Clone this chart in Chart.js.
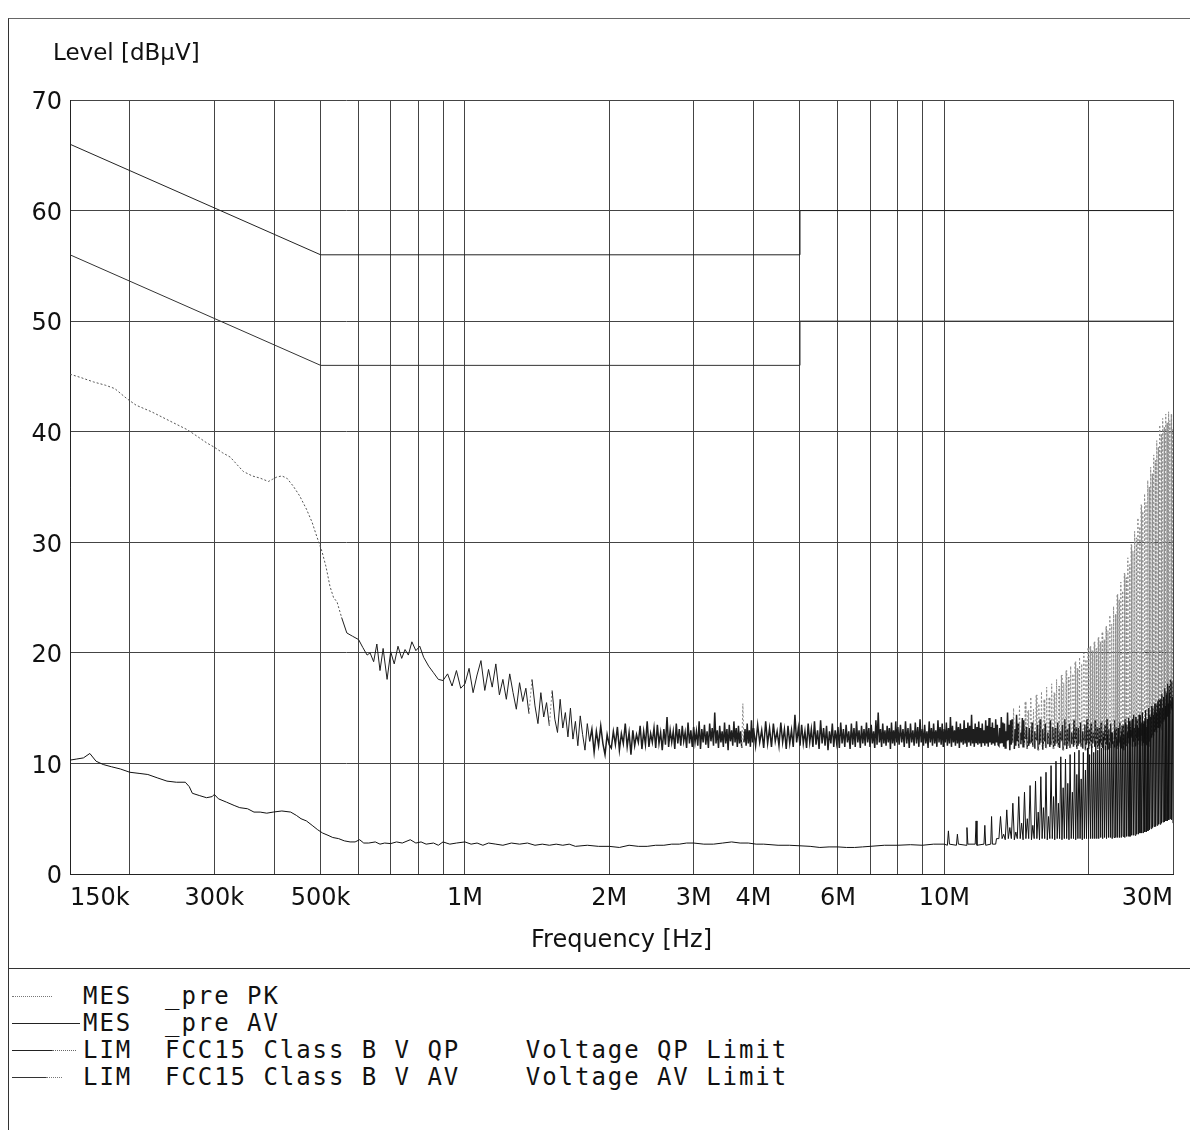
<!DOCTYPE html>
<html lang="en">
<head>
<meta charset="UTF-8">
<title>Conducted emission scan</title>
<script src="https://cdn.jsdelivr.net/npm/chart.js@4.4.1/dist/chart.umd.min.js"></script>
<style>
    body { margin: 0; width: 1190px; height: 1130px; background: #fff; position: relative; overflow: hidden; }
    .frame { position: absolute; left: 8px; top: 18px; width: 1182px; height: 1112px; border-left: 1px solid #333; border-top: 1px solid #666; box-sizing: border-box; }
    #plot { position: absolute; left: 8px; top: 18px; }
    .sep { position: absolute; left: 8px; top: 968px; width: 1182px; border-top: 1px solid #333; }
    .legend { position: absolute; left: 83px; top: 983px; font: 24px 'DejaVu Sans Mono', monospace; letter-spacing: 1.95px; line-height: 27px; white-space: pre; color: #111; }
    .sw { position: absolute; height: 0; }
</style>
</head>
<body>
<div class="frame"></div>
<canvas id="plot" width="1182" height="950"></canvas>
<div class="sep"></div>

<div class="sw" style="left:12px;top:996px;width:40px;border-top:1px dotted #777"></div>
<div class="sw" style="left:12px;top:1023px;width:68px;border-top:1px solid #222"></div>
<div class="sw" style="left:12px;top:1050px;width:40px;border-top:1px solid #222"></div>
<div class="sw" style="left:52px;top:1050px;width:24px;border-top:1px dotted #666"></div>
<div class="sw" style="left:12px;top:1077px;width:34px;border-top:1px solid #333"></div>
<div class="sw" style="left:46px;top:1077px;width:16px;border-top:1px dotted #777"></div>
<div class="legend">MES  _pre PK
MES  _pre AV
LIM  FCC15 Class B V QP    Voltage QP Limit
LIM  FCC15 Class B V AV    Voltage AV Limit</div>

<script>
// frequencies in MHz, levels in dBµV
const yTitle = 'Level [dBµV]'
const xTitle = 'Frequency [Hz]'
const freqGrid = [0.15, 0.2, 0.3, 0.4, 0.5, 0.6, 0.7, 0.8, 0.9, 1, 2, 3, 4, 5, 6, 7, 8, 9, 10, 20, 30]
const freqLabels = ['150k', '', '300k', '', '500k', '', '', '', '', '1M', '2M', '3M', '4M', '', '6M', '', '', '', '10M', '', '30M']
const levelTicks = [0, 10, 20, 30, 40, 50, 60, 70]

const qpLimit = [[0.15, 66], [0.5, 56], [5, 56], [5, 60], [30, 60]]
const avLimit = [[0.15, 56], [0.5, 46], [5, 46], [5, 50], [30, 50]]

// peak sweep, 150k - 1M
const pkLow = [
    [0.150, 45.2], [0.158, 44.9], [0.168, 44.5], [0.178, 44.2], [0.186, 43.9], [0.192, 43.4], [0.197, 43.0], [0.206, 42.4],
    [0.222, 41.8], [0.239, 41.1], [0.252, 40.6], [0.263, 40.2], [0.276, 39.6], [0.289, 39.0], [0.300, 38.6], [0.312, 38.1],
    [0.324, 37.7], [0.335, 37.0], [0.345, 36.4], [0.360, 36.0], [0.374, 35.8], [0.389, 35.5], [0.397, 35.7], [0.405, 35.9],
    [0.415, 36.0], [0.425, 35.8], [0.438, 35.1], [0.452, 34.2], [0.467, 33.0], [0.480, 31.8], [0.491, 30.5], [0.503, 29.2],
    [0.513, 27.8], [0.523, 26.0], [0.532, 25.0], [0.541, 24.6], [0.553, 23.2], [0.567, 21.8], [0.583, 21.5], [0.600, 21.2],
    [0.612, 20.5], [0.625, 19.8], [0.634, 20.0], [0.645, 19.2], [0.655, 20.8], [0.665, 18.4], [0.675, 20.4], [0.688, 17.6],
    [0.700, 20.1], [0.712, 19.0], [0.725, 20.6], [0.738, 19.5], [0.750, 20.3], [0.762, 19.8], [0.775, 21.0], [0.790, 20.2],
    [0.805, 20.6], [0.820, 19.6], [0.840, 18.8], [0.860, 18.2], [0.880, 17.6], [0.900, 17.5], [0.920, 18.1], [0.940, 17.0],
    [0.960, 18.4], [0.980, 16.8]
]

// peak sweep, 1M - 13M (noise band)
const pkMid = [
    [1.00, 17.2], [1.02, 18.6], [1.04, 16.4], [1.06, 18.0], [1.08, 19.3], [1.10, 16.6], [1.12, 18.5], [1.14, 16.9], [1.16, 19.0], [1.18, 16.2],
    [1.20, 17.6], [1.22, 15.8], [1.24, 18.1], [1.26, 16.4], [1.28, 14.9], [1.30, 17.3], [1.32, 15.6], [1.34, 16.8], [1.36, 14.5], [1.38, 17.6],
    [1.40, 15.2], [1.42, 13.6], [1.44, 16.4], [1.46, 14.2], [1.48, 15.5], [1.50, 13.4], [1.52, 16.6], [1.54, 14.0], [1.56, 12.8], [1.58, 15.8],
    [1.60, 13.2], [1.62, 14.6], [1.64, 12.4], [1.66, 15.0], [1.68, 12.2], [1.70, 13.8], [1.72, 11.6], [1.74, 14.3], [1.76, 12.6], [1.78, 11.2],
    [1.80, 13.6], [1.82, 12.0], [1.84, 13.1], [1.86, 11.0], [1.88, 12.9], [1.90, 11.6], [1.92, 13.4], [1.94, 11.8], [1.96, 10.8], [1.98, 12.6],
    [2.00, 11.7], [2.02, 11.4], [2.04, 12.9], [2.06, 11.7], [2.08, 13.3], [2.10, 11.2], [2.12, 12.7], [2.14, 11.8], [2.16, 13.6], [2.18, 11.5],
    [2.20, 12.8], [2.22, 10.8], [2.24, 13.0], [2.26, 11.6], [2.28, 12.6], [2.30, 11.9], [2.32, 13.4], [2.34, 11.3], [2.36, 12.9], [2.38, 11.7],
    [2.40, 13.8], [2.42, 11.5], [2.44, 12.7], [2.46, 11.9], [2.48, 13.2], [2.50, 11.4], [2.52, 13.5], [2.54, 11.8], [2.56, 12.8], [2.58, 11.2],
    [2.60, 13.1], [2.62, 11.7], [2.64, 14.2], [2.66, 11.5], [2.68, 13.0], [2.70, 11.9], [2.72, 12.9], [2.74, 11.3], [2.76, 13.6], [2.78, 11.8],
    [2.80, 13.1], [2.82, 11.6], [2.84, 13.4], [2.86, 12.0], [2.88, 12.8], [2.90, 11.4], [2.92, 13.7], [2.94, 11.8], [2.96, 13.0], [2.98, 11.5],
    [3.00, 13.3], [3.02, 11.9], [3.04, 12.9], [3.06, 11.6], [3.08, 13.8], [3.10, 11.3], [3.12, 13.1], [3.14, 11.9], [3.16, 13.5], [3.18, 11.7],
    [3.20, 12.9], [3.22, 11.4], [3.24, 13.6], [3.26, 12.0], [3.28, 13.2], [3.30, 11.6], [3.32, 14.6], [3.34, 11.8], [3.36, 13.0], [3.38, 11.4],
    [3.40, 13.4], [3.42, 11.9], [3.44, 12.9], [3.46, 11.5], [3.48, 13.7], [3.50, 11.8], [3.52, 13.1], [3.54, 11.2], [3.56, 13.5], [3.58, 12.0],
    [3.60, 13.0], [3.62, 11.6], [3.64, 13.8], [3.66, 11.9], [3.68, 13.2], [3.70, 11.5], [3.72, 13.4], [3.74, 11.8], [3.76, 12.9], [3.78, 11.4],
    [3.80, 15.4], [3.82, 11.9], [3.84, 13.1], [3.86, 11.6], [3.88, 13.6], [3.90, 11.8], [3.92, 13.0], [3.94, 11.5], [3.96, 13.9], [3.98, 11.9],
    [4.00, 13.2], [4.04, 11.6], [4.08, 13.5], [4.12, 11.9], [4.16, 13.0], [4.20, 11.4], [4.24, 13.8], [4.28, 11.8], [4.32, 13.2], [4.36, 11.5],
    [4.40, 13.6], [4.44, 12.0], [4.48, 12.9], [4.52, 11.6], [4.56, 13.7], [4.60, 11.9], [4.64, 13.1], [4.68, 11.3], [4.72, 13.4], [4.76, 11.8],
    [4.80, 13.0], [4.84, 11.5], [4.88, 14.4], [4.92, 11.9], [4.96, 13.2], [5.00, 11.6], [5.04, 13.5], [5.08, 11.8], [5.12, 12.9], [5.16, 11.4],
    [5.20, 13.6], [5.24, 11.9], [5.28, 13.1], [5.32, 11.5], [5.36, 13.8], [5.40, 11.7], [5.44, 13.0], [5.48, 11.3], [5.52, 13.9], [5.56, 11.8],
    [5.60, 13.2], [5.64, 11.6], [5.68, 13.4], [5.72, 11.2], [5.76, 12.9], [5.80, 11.8], [5.84, 13.6], [5.88, 11.5], [5.92, 13.0], [5.96, 11.9],
    [6.00, 13.3], [6.04, 11.4], [6.08, 13.7], [6.12, 11.8], [6.16, 13.1], [6.20, 11.5], [6.24, 13.5], [6.28, 11.9], [6.32, 12.9], [6.36, 11.3],
    [6.40, 13.6], [6.44, 11.7], [6.48, 13.2], [6.52, 11.5], [6.56, 13.8], [6.60, 11.9], [6.64, 13.0], [6.68, 11.4], [6.72, 13.4], [6.76, 11.8],
    [6.80, 13.1], [6.84, 11.6], [6.88, 13.7], [6.92, 11.9], [6.96, 13.2], [7.00, 11.5], [7.04, 13.5], [7.08, 11.8], [7.12, 12.9], [7.16, 11.4],
    [7.20, 13.9], [7.24, 11.7], [7.28, 14.6], [7.32, 11.9], [7.36, 13.1], [7.40, 11.5], [7.44, 13.6], [7.48, 11.8], [7.52, 13.0], [7.56, 11.6],
    [7.60, 13.4], [7.64, 11.9], [7.68, 13.2], [7.72, 11.3], [7.76, 13.7], [7.80, 11.8], [7.84, 13.0], [7.88, 11.6], [7.92, 13.8], [7.96, 11.9],
    [8.00, 13.3], [8.05, 11.7], [8.10, 13.5], [8.15, 11.9], [8.20, 13.1], [8.25, 11.5], [8.30, 13.8], [8.35, 11.8], [8.40, 13.2], [8.45, 11.4],
    [8.50, 13.6], [8.55, 11.9], [8.60, 13.0], [8.65, 11.6], [8.70, 13.7], [8.75, 11.8], [8.80, 13.3], [8.85, 11.5], [8.90, 14.0], [8.95, 11.9],
    [9.00, 13.1], [9.05, 11.6], [9.10, 13.5], [9.15, 11.8], [9.20, 12.9], [9.25, 11.4], [9.30, 13.8], [9.35, 11.9], [9.40, 13.2], [9.45, 11.6],
    [9.50, 13.6], [9.55, 11.8], [9.60, 13.0], [9.65, 11.5], [9.70, 13.9], [9.75, 11.9], [9.80, 13.3], [9.85, 11.7], [9.90, 13.6], [9.95, 11.5],
    [10.00, 13.1], [10.05, 11.9], [10.10, 13.7], [10.15, 11.6], [10.20, 13.2], [10.25, 11.8], [10.30, 14.2], [10.35, 11.5], [10.40, 13.4], [10.45, 11.9],
    [10.50, 13.0], [10.55, 11.6], [10.60, 13.8], [10.65, 11.8], [10.70, 13.3], [10.75, 11.4], [10.80, 13.6], [10.85, 11.9], [10.90, 13.1], [10.95, 11.7],
    [11.00, 13.9], [11.05, 11.8], [11.10, 13.2], [11.15, 11.5], [11.20, 13.7], [11.25, 11.9], [11.30, 13.4], [11.35, 11.6], [11.40, 14.4], [11.45, 11.8],
    [11.50, 13.1], [11.55, 11.5], [11.60, 13.6], [11.65, 11.9], [11.70, 13.3], [11.75, 11.7], [11.80, 13.8], [11.85, 11.8], [11.90, 13.2], [11.95, 11.5],
    [12.00, 13.6], [12.05, 11.9], [12.10, 13.0], [12.15, 11.6], [12.20, 13.9], [12.25, 11.8], [12.30, 13.4], [12.35, 11.5], [12.40, 14.1], [12.45, 11.9],
    [12.50, 13.3], [12.55, 11.7], [12.60, 13.7], [12.65, 11.8], [12.70, 13.2], [12.75, 11.6], [12.80, 14.0], [12.85, 11.9], [12.90, 13.5], [12.95, 11.7]
]

// peak sweep 13M - 30M: noise band with a harmonic spike every 200 kHz
const pkCombFreq = [
    13.00, 13.05, 13.10, 13.15, 13.20, 13.25, 13.30, 13.35, 13.40, 13.45, 13.50, 13.55, 13.60, 13.65, 13.70, 13.75, 13.80, 13.85, 13.90, 13.95,
    14.00, 14.05, 14.10, 14.15, 14.20, 14.25, 14.30, 14.35, 14.40, 14.45, 14.50, 14.55, 14.60, 14.65, 14.70, 14.75, 14.80, 14.85, 14.90, 14.95,
    15.00, 15.05, 15.10, 15.15, 15.20, 15.25, 15.30, 15.35, 15.40, 15.45, 15.50, 15.55, 15.60, 15.65, 15.70, 15.75, 15.80, 15.85, 15.90, 15.95,
    16.00, 16.05, 16.10, 16.15, 16.20, 16.25, 16.30, 16.35, 16.40, 16.45, 16.50, 16.55, 16.60, 16.65, 16.70, 16.75, 16.80, 16.85, 16.90, 16.95,
    17.00, 17.05, 17.10, 17.15, 17.20, 17.25, 17.30, 17.35, 17.40, 17.45, 17.50, 17.55, 17.60, 17.65, 17.70, 17.75, 17.80, 17.85, 17.90, 17.95,
    18.00, 18.05, 18.10, 18.15, 18.20, 18.25, 18.30, 18.35, 18.40, 18.45, 18.50, 18.55, 18.60, 18.65, 18.70, 18.75, 18.80, 18.85, 18.90, 18.95,
    19.00, 19.05, 19.10, 19.15, 19.20, 19.25, 19.30, 19.35, 19.40, 19.45, 19.50, 19.55, 19.60, 19.65, 19.70, 19.75, 19.80, 19.85, 19.90, 19.95,
    20.00, 20.05, 20.10, 20.15, 20.20, 20.25, 20.30, 20.35, 20.40, 20.45, 20.50, 20.55, 20.60, 20.65, 20.70, 20.75, 20.80, 20.85, 20.90, 20.95,
    21.00, 21.05, 21.10, 21.15, 21.20, 21.25, 21.30, 21.35, 21.40, 21.45, 21.50, 21.55, 21.60, 21.65, 21.70, 21.75, 21.80, 21.85, 21.90, 21.95,
    22.00, 22.05, 22.10, 22.15, 22.20, 22.25, 22.30, 22.35, 22.40, 22.45, 22.50, 22.55, 22.60, 22.65, 22.70, 22.75, 22.80, 22.85, 22.90, 22.95,
    23.00, 23.05, 23.10, 23.15, 23.20, 23.25, 23.30, 23.35, 23.40, 23.45, 23.50, 23.55, 23.60, 23.65, 23.70, 23.75, 23.80, 23.85, 23.90, 23.95,
    24.00, 24.05, 24.10, 24.15, 24.20, 24.25, 24.30, 24.35, 24.40, 24.45, 24.50, 24.55, 24.60, 24.65, 24.70, 24.75, 24.80, 24.85, 24.90, 24.95,
    25.00, 25.05, 25.10, 25.15, 25.20, 25.25, 25.30, 25.35, 25.40, 25.45, 25.50, 25.55, 25.60, 25.65, 25.70, 25.75, 25.80, 25.85, 25.90, 25.95,
    26.00, 26.05, 26.10, 26.15, 26.20, 26.25, 26.30, 26.35, 26.40, 26.45, 26.50, 26.55, 26.60, 26.65, 26.70, 26.75, 26.80, 26.85, 26.90, 26.95,
    27.00, 27.05, 27.10, 27.15, 27.20, 27.25, 27.30, 27.35, 27.40, 27.45, 27.50, 27.55, 27.60, 27.65, 27.70, 27.75, 27.80, 27.85, 27.90, 27.95,
    28.00, 28.05, 28.10, 28.15, 28.20, 28.25, 28.30, 28.35, 28.40, 28.45, 28.50, 28.55, 28.60, 28.65, 28.70, 28.75, 28.80, 28.85, 28.90, 28.95,
    29.00, 29.05, 29.10, 29.15, 29.20, 29.25, 29.30, 29.35, 29.40, 29.45, 29.50, 29.55, 29.60, 29.65, 29.70, 29.75, 29.80, 29.85, 29.90, 29.95,
    30.00
]
const pkComb = [
    11.6, 13.2, 11.8, 14.2, 11.9, 13.7, 11.5, 13.6, 11.4, 12.9, 12.0, 14.6, 12.1, 13.5, 11.2, 13.9, 11.7, 14.0, 11.9, 15.0,
    11.3, 13.1, 11.6, 14.4, 12.0, 13.6, 11.4, 15.3, 11.8, 12.8, 12.1, 14.1, 11.5, 13.9, 11.7, 15.6, 12.2, 13.3, 11.3, 14.8,
    11.6, 13.2, 11.8, 16.0, 11.9, 13.7, 11.5, 14.9, 11.4, 12.9, 12.0, 16.2, 12.1, 13.5, 11.2, 15.4, 11.7, 14.0, 11.9, 16.5,
    11.3, 13.1, 11.6, 15.8, 12.0, 13.6, 11.4, 16.9, 11.8, 12.8, 12.1, 16.0, 11.5, 13.9, 11.7, 17.2, 12.2, 13.3, 11.3, 16.4,
    11.6, 13.2, 11.8, 17.6, 11.9, 13.7, 11.5, 17.0, 11.4, 12.9, 12.0, 18.0, 12.1, 13.5, 11.2, 17.3, 11.7, 14.0, 11.9, 18.4,
    11.3, 13.1, 11.6, 17.8, 12.0, 13.6, 11.4, 18.8, 11.8, 12.8, 12.1, 18.1, 11.5, 13.9, 11.7, 19.2, 12.2, 13.3, 11.3, 18.6,
    11.6, 13.2, 11.8, 19.6, 11.9, 13.7, 11.5, 19.0, 11.4, 12.9, 12.0, 20.0, 12.1, 13.5, 11.2, 19.4, 11.7, 14.0, 11.9, 20.5,
    11.3, 13.1, 11.6, 20.6, 12.0, 13.6, 11.4, 20.2, 11.8, 12.8, 12.1, 21.0, 11.5, 13.9, 11.7, 20.4, 12.2, 13.3, 11.3, 21.4,
    11.6, 13.2, 11.8, 21.0, 11.9, 13.7, 11.5, 21.9, 11.4, 12.9, 12.0, 21.2, 12.1, 13.5, 11.2, 22.4, 11.7, 14.0, 11.9, 22.0,
    11.3, 13.1, 11.6, 23.4, 12.0, 13.6, 11.4, 22.6, 11.8, 12.8, 12.1, 24.2, 11.5, 13.9, 11.7, 23.5, 12.2, 13.3, 11.3, 25.3,
    11.6, 13.2, 11.8, 24.8, 11.9, 13.7, 11.5, 26.4, 11.4, 12.9, 12.0, 25.6, 12.1, 13.5, 11.2, 27.2, 11.7, 14.0, 11.9, 26.8,
    11.6, 13.5, 11.9, 28.6, 12.3, 14.1, 11.8, 28.0, 11.7, 13.3, 12.3, 29.8, 12.4, 13.9, 11.5, 29.2, 12.0, 14.4, 12.2, 31.0,
    11.6, 13.5, 11.9, 30.4, 12.3, 14.0, 11.7, 32.2, 12.1, 13.2, 12.4, 31.4, 11.8, 14.3, 12.0, 33.4, 12.5, 13.7, 11.6, 32.8,
    11.9, 13.6, 12.1, 34.4, 12.2, 14.1, 11.8, 33.6, 11.7, 13.3, 12.3, 35.6, 12.4, 13.9, 11.5, 35.0, 12.0, 14.4, 12.2, 36.8,
    12.4, 14.6, 12.7, 36.2, 12.6, 15.0, 12.5, 37.9, 12.9, 14.8, 13.1, 37.4, 13.0, 15.4, 12.8, 39.2, 13.3, 15.2, 13.4, 38.6,
    13.2, 15.8, 13.6, 40.6, 13.7, 15.6, 13.5, 39.8, 13.6, 16.3, 14.0, 41.2, 14.1, 16.0, 13.8, 40.4, 14.0, 16.8, 14.4, 41.6,
    14.5, 16.5, 14.2, 40.8, 14.3, 17.2, 14.7, 41.8, 14.8, 17.0, 14.5, 41.0, 14.6, 17.6, 15.0, 41.6, 15.0, 17.4, 14.8, 40.2,
    15.4
]

// average sweep, 150k - 12.85M
const avLow = [
    [0.150, 10.3], [0.155, 10.4], [0.160, 10.5], [0.165, 10.9], [0.170, 10.2], [0.176, 9.9], [0.183, 9.7], [0.191, 9.5], [0.200, 9.2], [0.209, 9.1],
    [0.218, 9.0], [0.228, 8.7], [0.239, 8.4], [0.250, 8.3], [0.261, 8.3], [0.266, 7.9], [0.270, 7.3], [0.279, 7.1], [0.289, 6.9], [0.297, 7.0],
    [0.300, 7.2], [0.306, 6.8], [0.318, 6.5], [0.330, 6.2], [0.339, 6.0], [0.352, 5.9], [0.363, 5.6], [0.374, 5.6], [0.386, 5.5], [0.398, 5.6],
    [0.415, 5.7], [0.433, 5.6], [0.445, 5.3], [0.455, 5.0], [0.467, 4.8], [0.480, 4.4], [0.493, 4.0], [0.505, 3.7], [0.518, 3.5], [0.530, 3.3],
    [0.545, 3.2], [0.560, 3.0], [0.576, 2.9], [0.590, 2.9], [0.603, 3.1], [0.615, 2.8], [0.630, 2.8], [0.650, 2.9], [0.665, 2.7], [0.680, 2.8],
    [0.700, 2.75], [0.720, 2.9], [0.740, 2.8], [0.769, 3.1], [0.790, 2.8], [0.810, 2.9], [0.830, 2.7], [0.860, 2.8], [0.880, 2.6], [0.900, 2.9],
    [0.930, 2.7], [0.960, 2.8], [1.00, 2.9], [1.03, 2.7], [1.06, 2.8], [1.09, 2.6], [1.12, 2.8], [1.16, 2.7], [1.20, 2.6], [1.25, 2.8],
    [1.30, 2.7], [1.35, 2.8], [1.40, 2.6], [1.45, 2.7], [1.50, 2.6], [1.55, 2.7], [1.60, 2.6], [1.65, 2.7], [1.70, 2.5], [1.80, 2.6],
    [1.90, 2.5], [2.00, 2.5], [2.10, 2.4], [2.20, 2.6], [2.30, 2.5], [2.40, 2.5], [2.50, 2.6], [2.60, 2.6], [2.70, 2.7], [2.80, 2.7],
    [2.90, 2.8], [3.00, 2.8], [3.15, 2.7], [3.30, 2.7], [3.45, 2.8], [3.60, 2.9], [3.75, 2.8], [3.90, 2.8], [4.05, 2.7], [4.20, 2.7],
    [4.50, 2.6], [4.75, 2.6], [5.00, 2.55], [5.25, 2.5], [5.50, 2.4], [5.75, 2.45], [6.00, 2.45], [6.25, 2.4], [6.50, 2.4], [6.75, 2.45],
    [7.00, 2.5], [7.50, 2.6], [8.00, 2.6], [8.50, 2.65], [9.00, 2.6], [9.50, 2.7], [10.0, 2.7], [10.15, 2.6], [10.2, 3.9], [10.25, 2.7],
    [10.6, 2.6], [10.65, 3.6], [10.7, 2.7], [11.1, 2.6], [11.15, 4.2], [11.2, 2.7], [11.6, 2.7], [11.65, 4.8], [11.7, 2.6], [12.1, 2.7],
    [12.15, 4.4], [12.2, 2.6], [12.5, 2.7], [12.55, 5.2], [12.6, 2.7], [12.8, 2.7], [12.85, 3.2]
]

// average sweep 13M - 30M: base line with a harmonic spike every 200 kHz
const avCombFreq = [
    13.0, 13.1, 13.2, 13.3, 13.4, 13.5, 13.6, 13.7, 13.8, 13.9, 14.0, 14.1, 14.2, 14.3, 14.4, 14.5, 14.6, 14.7, 14.8, 14.9,
    15.0, 15.1, 15.2, 15.3, 15.4, 15.5, 15.6, 15.7, 15.8, 15.9, 16.0, 16.1, 16.2, 16.3, 16.4, 16.5, 16.6, 16.7, 16.8, 16.9,
    17.0, 17.1, 17.2, 17.3, 17.4, 17.5, 17.6, 17.7, 17.8, 17.9, 18.0, 18.1, 18.2, 18.3, 18.4, 18.5, 18.6, 18.7, 18.8, 18.9,
    19.0, 19.1, 19.2, 19.3, 19.4, 19.5, 19.6, 19.7, 19.8, 19.9, 20.0, 20.1, 20.2, 20.3, 20.4, 20.5, 20.6, 20.7, 20.8, 20.9,
    21.0, 21.1, 21.2, 21.3, 21.4, 21.5, 21.6, 21.7, 21.8, 21.9, 22.0, 22.1, 22.2, 22.3, 22.4, 22.5, 22.6, 22.7, 22.8, 22.9,
    23.0, 23.1, 23.2, 23.3, 23.4, 23.5, 23.6, 23.7, 23.8, 23.9, 24.0, 24.1, 24.2, 24.3, 24.4, 24.5, 24.6, 24.7, 24.8, 24.9,
    25.0, 25.1, 25.2, 25.3, 25.4, 25.5, 25.6, 25.7, 25.8, 25.9, 26.0, 26.1, 26.2, 26.3, 26.4, 26.5, 26.6, 26.7, 26.8, 26.9,
    27.0, 27.1, 27.2, 27.3, 27.4, 27.5, 27.6, 27.7, 27.8, 27.9, 28.0, 28.1, 28.2, 28.3, 28.4, 28.5, 28.6, 28.7, 28.8, 28.9,
    29.0, 29.1, 29.2, 29.3, 29.4, 29.5, 29.6, 29.7, 29.8, 29.9, 30.0
]
const avComb = [
    3.2, 5.2, 3.2, 3.6, 3.1, 5.8, 3.2, 4.2, 3.2, 6.4, 3.1, 3.8, 3.2, 7.0, 3.2, 4.6, 3.1, 7.4, 3.2, 5.0,
    3.2, 8.0, 3.1, 4.4, 3.2, 8.4, 3.2, 5.6, 3.1, 8.8, 3.2, 6.0, 3.2, 9.2, 3.1, 5.2, 3.2, 9.8, 3.2, 7.0,
    3.1, 10.2, 3.2, 6.4, 3.2, 10.6, 3.1, 7.8, 3.2, 10.4, 3.2, 8.2, 3.1, 10.8, 3.2, 7.4, 3.2, 11.0, 3.1, 9.0,
    3.2, 11.2, 3.2, 8.6, 3.1, 11.0, 3.2, 9.4, 3.2, 11.4, 3.2, 10.8, 3.2, 11.6, 3.2, 11.0, 3.2, 12.0, 3.2, 11.2,
    3.2, 12.2, 3.3, 11.4, 3.2, 12.4, 3.3, 11.6, 3.2, 12.6, 3.3, 11.8, 3.3, 12.8, 3.2, 12.0, 3.3, 13.0, 3.3, 12.2,
    3.3, 13.2, 3.3, 12.4, 3.3, 13.4, 3.4, 12.6, 3.3, 13.6, 3.4, 12.8, 3.4, 13.8, 3.4, 13.0, 3.5, 14.0, 3.5, 13.2,
    3.5, 14.2, 3.6, 13.4, 3.6, 14.4, 3.7, 13.6, 3.7, 14.6, 3.7, 13.8, 3.8, 14.8, 3.8, 14.0, 3.9, 15.0, 4.0, 14.2,
    4.1, 15.2, 4.2, 14.4, 4.3, 15.4, 4.3, 14.6, 4.4, 15.6, 4.5, 14.8, 4.5, 15.8, 4.6, 15.0, 4.7, 16.0, 4.7, 15.2,
    4.8, 16.2, 4.8, 15.4, 4.9, 16.4, 5.0, 15.6, 4.9, 16.0, 4.6
]

const toXY = arr => arr.map(p => ({ x: p[0], y: p[1] }))
const pkData = toXY(pkLow.concat(pkMid)).concat(pkCombFreq.map((f, i) => ({ x: f, y: pkComb[i] })))
const avData = toXY(avLow).concat(avCombFreq.map((f, i) => ({ x: f, y: avComb[i] })))

const font = { family: "'DejaVu Sans', sans-serif", size: 24 }

// "Level [dBµV]" sits above the y axis, unrotated
const levelTitle = {
    id: 'levelTitle',
    afterDraw(chart) {
        const c = chart.ctx
        c.save()
        c.font = "23px 'DejaVu Sans', sans-serif"
        c.fillStyle = '#111'
        c.textBaseline = 'alphabetic'
        c.fillText(yTitle, chart.chartArea.left - 17, chart.chartArea.top - 40)
        c.restore()
    }
}

const spike = ctx => Math.abs(ctx.p1.parsed.y - ctx.p0.parsed.y) > 3

new Chart(document.getElementById('plot'), {
    type: 'line',
    data: {
        datasets: [
            { label: 'MES _pre AV', data: avData, borderColor: '#111', borderWidth: 1 },
            {
                label: 'MES _pre PK', data: pkData, borderColor: '#333', borderWidth: 1,
                segment: {
                    borderColor: ctx => spike(ctx) ? '#8a8a8a' : (ctx.p0.parsed.x < 0.55 ? '#555' : '#1e1e1e'),
                    borderDash: ctx => (spike(ctx) || ctx.p0.parsed.x < 0.55) ? [2, 2] : [],
                    borderWidth: ctx => (!spike(ctx) && ctx.p0.parsed.x > 1.8) ? 1.5 : 1
                }
            },
            { label: 'Voltage QP Limit', data: toXY(qpLimit), borderColor: '#222', borderWidth: 1 },
            { label: 'Voltage AV Limit', data: toXY(avLimit), borderColor: '#333', borderWidth: 1 }
        ]
    },
    options: {
        responsive: false,
        animation: false,
        devicePixelRatio: 1,
        layout: { padding: { top: 82, right: 17, left: 0, bottom: 0 } },
        elements: { point: { radius: 0 }, line: { tension: 0 } },
        plugins: { legend: { display: false }, tooltip: { enabled: false } },
        scales: {
            x: {
                type: 'logarithmic', min: 0.15, max: 30,
                afterBuildTicks: s => { s.ticks = freqGrid.map(v => ({ value: v })) },
                afterFit: s => { s.height = 94 },
                grid: { color: '#444', drawTicks: false },
                border: { color: '#222' },
                ticks: {
                    autoSkip: false, maxRotation: 0, align: 'inner', padding: 10, color: '#111', font,
                    callback: (v, i) => freqLabels[i]
                },
                title: { display: true, text: xTitle, color: '#111', font, padding: { top: 0, bottom: 13 } }
            },
            y: {
                min: 0, max: 70,
                afterBuildTicks: s => { s.ticks = levelTicks.map(v => ({ value: v })) },
                afterFit: s => { s.width = 62 },
                grid: { color: '#444', drawTicks: false },
                border: { color: '#222' },
                ticks: { padding: 8, labelOffset: 3, color: '#111', font }
            }
        }
    },
    plugins: [levelTitle]
})
</script>
</body>
</html>
